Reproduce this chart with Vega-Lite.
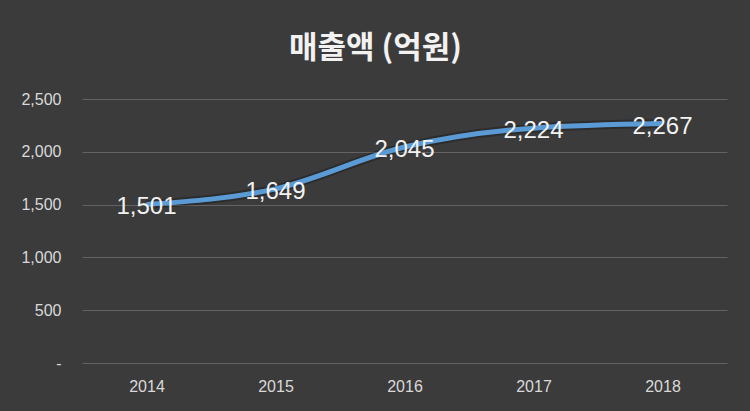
{
  "$schema": "https://vega.github.io/schema/vega-lite/v6.json",
  "width": 645,
  "height": 264,
  "autosize": {"type": "none"},
  "padding": {"left": 82, "top": 99, "right": 23, "bottom": 48},
  "background": "#3b3b3b",
  "data": {
    "values": [
      {"year": "2014", "sales": 1501},
      {"year": "2015", "sales": 1649},
      {"year": "2016", "sales": 2045},
      {"year": "2017", "sales": 2224},
      {"year": "2018", "sales": 2267}
    ]
  },
  "title": {
    "text": "매출액 (억원)",
    "font": "Noto Sans CJK KR",
    "fontSize": 31,
    "fontWeight": "bold",
    "color": "#f2f2f2",
    "anchor": "middle",
    "dx": -29,
    "baseline": "alphabetic",
    "offset": 2
  },
  "encoding": {
    "x": {
      "field": "year",
      "type": "ordinal",
      "scale": {"type": "point", "padding": 0.5},
      "axis": {
        "title": null,
        "labelAngle": 0,
        "ticks": false,
        "domain": false,
        "labelPadding": 15,
        "labelFont": "Liberation Sans",
        "labelFontSize": 16,
        "labelColor": "#d9d9d9"
      }
    },
    "y": {
      "field": "sales",
      "type": "quantitative",
      "scale": {"domain": [0, 2500], "nice": false},
      "axis": {
        "title": null,
        "values": [0, 500, 1000, 1500, 2000, 2500],
        "labelExpr": "datum.value == 0 ? '-' : format(datum.value, ',')",
        "ticks": false,
        "domain": false,
        "labelPadding": 21,
        "labelFont": "Liberation Sans",
        "labelFontSize": 16,
        "labelColor": "#d9d9d9",
        "gridColor": "#636363",
        "gridWidth": 1
      }
    }
  },
  "layer": [
    {
      "mark": {"type": "line", "interpolate": "monotone", "color": "#000000", "opacity": 0.25, "strokeWidth": 9}
    },
    {
      "mark": {"type": "line", "interpolate": "monotone", "color": "#5b9bd5", "strokeWidth": 5}
    },
    {
      "mark": {"type": "text", "font": "Liberation Sans", "fontSize": 24, "color": "#f2f2f2", "baseline": "middle", "dy": 3},
      "encoding": {"text": {"field": "sales", "type": "quantitative", "format": ","}}
    }
  ],
  "config": {"view": {"stroke": null}}
}
